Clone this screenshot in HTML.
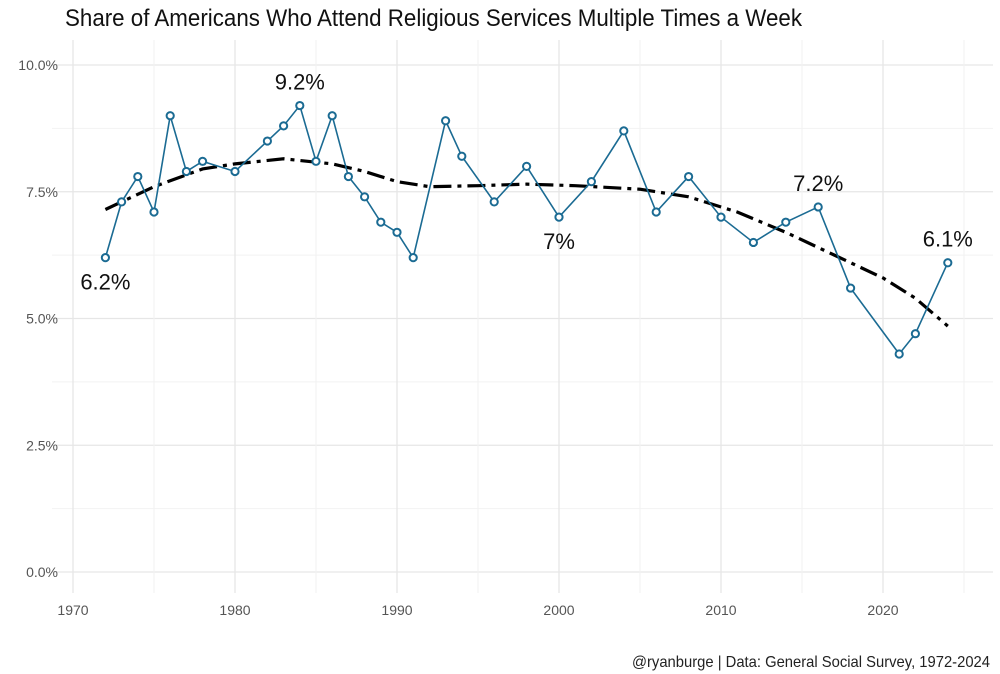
<!DOCTYPE html>
<html><head><meta charset="utf-8"><style>
body{margin:0;background:#fff;}
svg{display:block;font-family:"Liberation Sans Narrow","Liberation Sans",sans-serif;}
</style></head><body>
<svg id="chart" width="1000" height="674" viewBox="0 0 1000 674">
<text x="65" y="26" font-size="24" fill="#111" textLength="737" lengthAdjust="spacingAndGlyphs">Share of Americans Who Attend Religious Services Multiple Times a Week</text>
<g id="grid"></g><g id="axes"></g><g id="trend"></g><g id="series"></g><g id="labels"></g>
<text x="990" y="667" font-size="16" fill="#222" text-anchor="end" textLength="358" lengthAdjust="spacingAndGlyphs">@ryanburge | Data: General Social Survey, 1972-2024</text>
</svg>
<script>
const years=[1972,1973,1974,1975,1976,1977,1978,1980,1982,1983,1984,1985,1986,1987,1988,1989,1990,1991,1993,1994,1996,1998,2000,2002,2004,2006,2008,2010,2012,2014,2016,2018,2021,2022,2024];
const values=[6.2,7.3,7.8,7.1,9.0,7.9,8.1,7.9,8.5,8.8,9.2,8.1,9.0,7.8,7.4,6.9,6.7,6.2,8.9,8.2,7.3,8.0,7.0,7.7,8.7,7.1,7.8,7.0,6.5,6.9,7.2,5.6,4.3,4.7,6.1];
const trendYears=[1972,1975,1978,1980,1983,1986,1988,1990,1992,1995,1998,2001,2005,2008,2011,2014,2017,2020,2022,2024];
const trendValues=[7.15,7.6,7.95,8.05,8.15,8.05,7.9,7.7,7.6,7.62,7.65,7.62,7.55,7.4,7.1,6.7,6.25,5.8,5.4,4.85];
const yTicks=[0,2.5,5,7.5,10];
const yTickLabels=["0.0%","2.5%","5.0%","7.5%","10.0%"];
const xTicks=[1970,1980,1990,2000,2010,2020];
const labelYears=[1972,1984,2000,2016,2024];
const labelValues=[6.2,9.2,7.0,7.2,6.1];
const labelTexts=["6.2%","9.2%","7%","7.2%","6.1%"];
const labelBelow=[true,false,true,false,false];

const X=y=>73+(y-1970)*16.2;
const Y=v=>572-v*50.7;
const NS="http://www.w3.org/2000/svg";
function mk(tag,attrs,parent){const e=document.createElementNS(NS,tag);for(const k in attrs)e.setAttribute(k,attrs[k]);document.getElementById(parent).appendChild(e);return e;}

for(let v=0;v<=10;v+=1.25){const major=yTicks.includes(v);
 const l=mk('line',{x1:52,x2:993,y1:Y(v),y2:Y(v),stroke:major?'#e6e6e6':'#f2f2f2','stroke-width':major?1.3:1},'grid');
 
 }
for(let yr=1970;yr<=2025;yr+=5){const major=xTicks.includes(yr);
 const l=mk('line',{x1:X(yr),x2:X(yr),y1:40,y2:593,stroke:major?'#e6e6e6':'#f2f2f2','stroke-width':major?1.3:1},'grid');
 
 }
yTicks.forEach((v,i)=>{const t=mk('text',{x:58,y:Y(v)+5,'font-size':14,fill:'#555','text-anchor':'end'},'axes');t.textContent=yTickLabels[i];
 
 });
xTicks.forEach(v=>{const t=mk('text',{x:X(v),y:615,'font-size':14,fill:'#555','text-anchor':'middle'},'axes');t.textContent=v;
 
 });

const tp=mk('polyline',{points:trendYears.map((y,i)=>X(y)+','+Y(trendValues[i])).join(' '),fill:'none',stroke:'#000','stroke-width':3.2,'stroke-dasharray':'18,6,4,6'},'trend');



const sl=mk('polyline',{points:years.map((y,i)=>X(y)+','+Y(values[i])).join(' '),fill:'none',stroke:'#1b6b93','stroke-width':1.6},'series');


years.forEach((y,i)=>{const c=mk('circle',{cx:X(y),cy:Y(values[i]),r:3.6,fill:'#fff',stroke:'#1b6b93','stroke-width':2},'series');
 
 });
labelYears.forEach((y,i)=>{const t=mk('text',{x:X(y),y:labelBelow[i]?Y(labelValues[i])+32:Y(labelValues[i])-16,'font-size':22,fill:'#111','text-anchor':'middle'},'labels');t.textContent=labelTexts[i];
 
 });
</script>
</body></html>
